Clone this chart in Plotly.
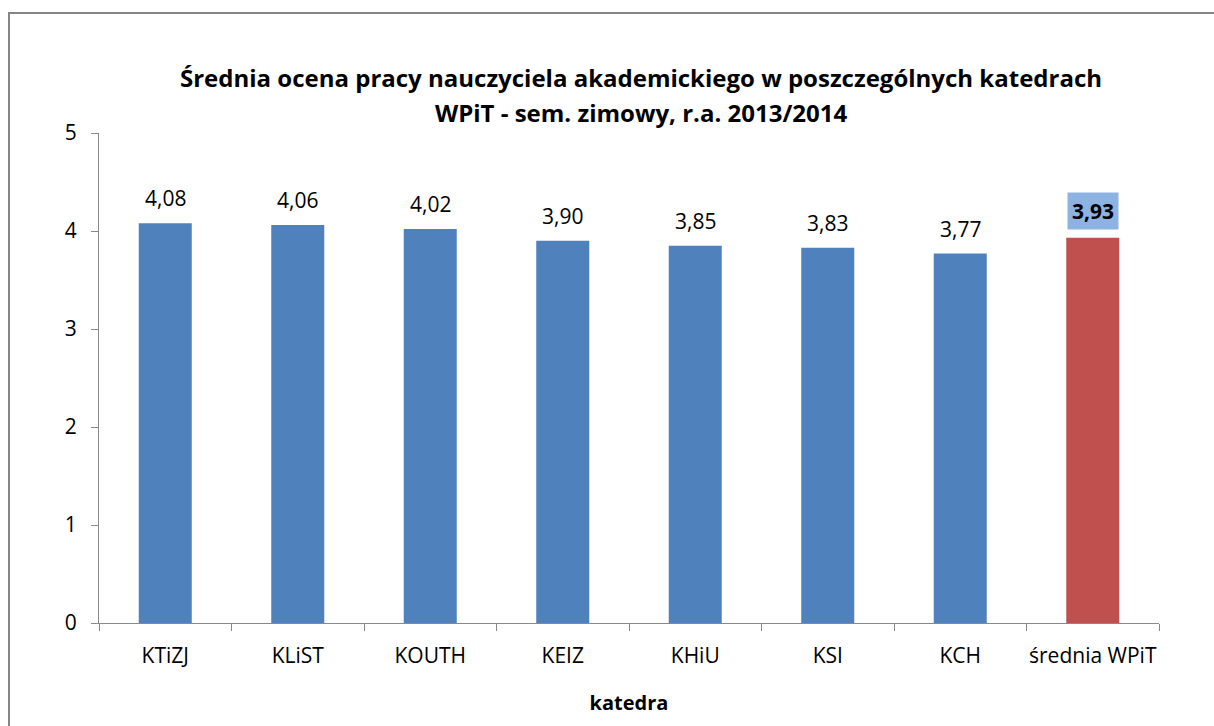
import plotly.graph_objects as go

categories = ["KTiZJ", "KLiST", "KOUTH", "KEIZ", "KHiU", "KSI", "KCH", "średnia WPiT"]
values = [4.08, 4.06, 4.02, 3.90, 3.85, 3.83, 3.77, 3.93]
colors = ["#4F81BD"] * 7 + ["#C0504D"]
labels = [f"{v:.2f}".replace(".", ",") for v in values]
title_lines = ["Średnia ocena pracy nauczyciela akademickiego w poszczególnych katedrach",
               "WPiT - sem. zimowy, r.a. 2013/2014"]

FONT = "Open Sans"

fig = go.Figure(go.Bar(
    x=categories, y=values, marker=dict(color=colors, line=dict(width=0)),
    width=0.4, hoverinfo="skip",
))

for i, (c, v, t) in enumerate(zip(categories, values, labels)):
    last = i == len(categories) - 1
    fig.add_annotation(
        x=c, y=v, text=f"<b>{t}</b>" if last else t, showarrow=False,
        yanchor="bottom", yshift=8 if last else 10,
        font=dict(family=FONT, size=21, color="#000"),
        bgcolor="#8DB3E2" if last else None, borderpad=4 if last else 0,
    )

L, R, T, B = 99, 55, 133, 103
W, H = 1214, 726
pw, ph = W - L - R, H - T - B

for line, shift in zip(title_lines, [56, 21]):
    fig.add_annotation(
        xref="paper", yref="paper", x=(641 - L) / pw, y=1, yshift=shift,
        text=f"<b>{line}</b>", showarrow=False, xanchor="center", yanchor="middle",
        font=dict(family=FONT, size=24, color="#000"),
    )

fig.add_shape(type="rect", xref="paper", yref="paper",
              x0=(9 - L) / pw, x1=(W + 20 - L) / pw,
              y0=-(H + 20 - T - ph) / ph, y1=(H - B - 13) / ph,
              line=dict(color="#868686", width=2), layer="below")

fig.update_layout(
    width=W, height=H, margin=dict(l=L, r=R, t=T, b=B, autoexpand=False),
    paper_bgcolor="white", plot_bgcolor="white", showlegend=False,
    font=dict(family=FONT, size=21, color="#000"),
)
fig.update_xaxes(
    showline=True, linecolor="#898989", linewidth=1, ticks="outside",
    tickson="boundaries", ticklen=7, tickcolor="#898989", tickangle=0,
    automargin=False, ticklabelstandoff=14,
    tickfont=dict(family=FONT, size=21, color="#000"),
    title=dict(text="<b>katedra</b>", font=dict(family=FONT, size=20, color="#000"), standoff=27),
)
fig.update_yaxes(
    range=[0, 5], dtick=1, showgrid=False, zeroline=False, automargin=False,
    showline=True, linecolor="#898989", linewidth=1, ticks="outside",
    ticklen=7, tickcolor="#898989", ticklabelstandoff=10,
    tickfont=dict(family=FONT, size=21, color="#000"),
)

fig.write_html("out.html", config={"displayModeBar": False},
               post_script="document.body.style.margin='0';document.body.style.overflow='hidden';")
